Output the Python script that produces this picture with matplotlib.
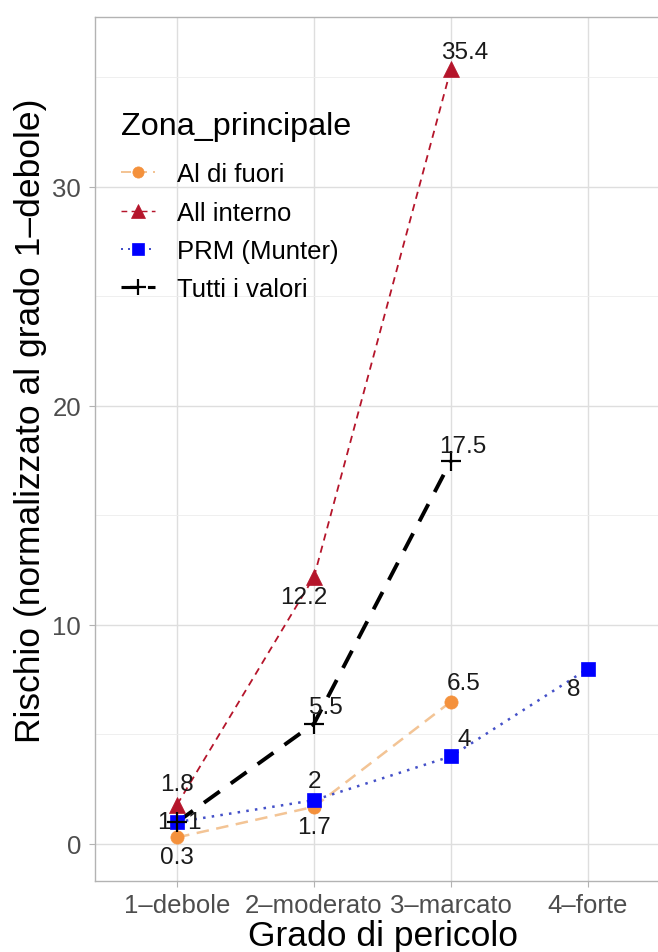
import matplotlib
matplotlib.use("Agg")
import matplotlib.pyplot as plt
from matplotlib.lines import Line2D

plt.rcParams['font.family'] = ['Liberation Sans', 'DejaVu Sans']

categories = ["1\u2013debole", "2\u2013moderato", "3\u2013marcato", "4\u2013forte"]

series_names = ["Al di fuori", "All interno", "PRM (Munter)", "Tutti i valori"]
al_di_fuori = [0.3, 1.7, 6.5]
all_interno = [1.8, 12.2, 35.4]
prm_munter = [1, 2, 4, 8]
tutti_valori = [1, 5.5, 17.5]
series_values = [al_di_fuori, all_interno, prm_munter, tutti_valori]

y_ticks = [0, 10, 20, 30]

# label offsets in pixels (dx, dy) — styling only
label_offsets = [
    [(0, -20), (0, -20), (13, 19)],
    [(0, 21), (-10, -20), (14, 17)],
    [(-13, 0), (0, 19), (13, 17), (-14, -20)],
    [(17, 0), (12, 17), (12, 15)],
]

styles = [
    dict(color='#F4913C', marker='o', ms=9.5, line_color='#F3C495', ls=(0, (5, 3)), lw=1.8, mec='#F4913C'),
    dict(color='#B5152B', marker='^', ms=12, line_color='#B5152B', ls=(0, (4, 3)), lw=1.3, mec='#B5152B'),
    dict(color='#0000FF', marker='s', ms=10, line_color='#4450C8', ls=(0, (1, 2.5)), lw=1.8, mec='#0000FF'),
    dict(color='#000000', marker='+', ms=14, line_color='#000000', ls=(0, (5, 3.5)), lw=2.8, mec='#000000'),
]

fig = plt.figure(figsize=(6.58, 9.53), dpi=100)
ax = fig.add_axes([95/658, 1 - 882/953, (670 - 95)/658, (882 - 18)/953])

xpos = list(range(1, len(categories) + 1))
px2pt = 72 / 100

for name, vals, st, offs in zip(series_names, series_values, styles, label_offsets):
    xs = xpos[:len(vals)]
    ax.plot(xs, vals, color=st['line_color'], ls=st['ls'], lw=st['lw'], zorder=2)
    ax.plot(xs, vals, ls='none', marker=st['marker'], ms=st['ms'], color=st['color'],
            mec=st['mec'], mew=1.6 if st['marker'] == '+' else 0.5, zorder=3)
    for x, v, (dx, dy) in zip(xs, vals, offs):
        ax.annotate(f"{v:g}", (x, v), xytext=(dx * px2pt, dy * px2pt), textcoords='offset points',
                    ha='center', va='center', fontsize=17.5, color='#1a1a1a', zorder=4)

ax.set_xlim(0.4, 4.6)
ax.set_ylim(-1.69, 37.76)
ax.set_xticks(xpos)
ax.set_xticklabels(categories)
ax.set_yticks(y_ticks)
ax.set_yticks([5, 15, 25, 35], minor=True)
ax.set_xticks([], minor=True)

ax.grid(True, which='major', color='#DEDEDE', lw=1.0)
ax.grid(True, which='minor', axis='y', color='#EDEDED', lw=0.6)
ax.set_axisbelow(True)
for s in ax.spines.values():
    s.set_color('#B3B3B3')
    s.set_linewidth(1.0)

ax.tick_params(axis='both', which='major', colors='#B3B3B3', labelcolor='#4D4D4D',
               labelsize=18.5, length=4, width=0.8)
ax.tick_params(axis='y', which='minor', length=0)
ax.tick_params(axis='x', pad=5)
ax.tick_params(axis='y', pad=6)

ax.set_xlabel("Grado di pericolo", fontsize=25.5, labelpad=1)
ax.set_ylabel("Rischio (normalizzato al grado 1\u2013debole)", fontsize=25.5, labelpad=4)
ax.yaxis.label.set_y(0.534)

handles = []
for name, st in zip(series_names, styles):
    handles.append(Line2D([0], [0], color=st['line_color'], ls=st['ls'], lw=st['lw'] * 0.8,
                          marker=st['marker'], ms=st['ms'] * 0.85, mfc=st['color'], mec=st['mec'],
                          mew=1.6 if st['marker'] == '+' else 0.5))
leg = ax.legend(handles, series_names, title="Zona_principale", loc='upper left',
                bbox_to_anchor=(0.005, 0.918), frameon=False, fontsize=18.5, title_fontsize=23.3,
                handlelength=1.32, handletextpad=0.85, labelspacing=0.56, alignment='left')
leg._legend_box.sep = 0.56 * 18.5 + 5

fig.savefig("out.png", dpi=100, facecolor='white')
